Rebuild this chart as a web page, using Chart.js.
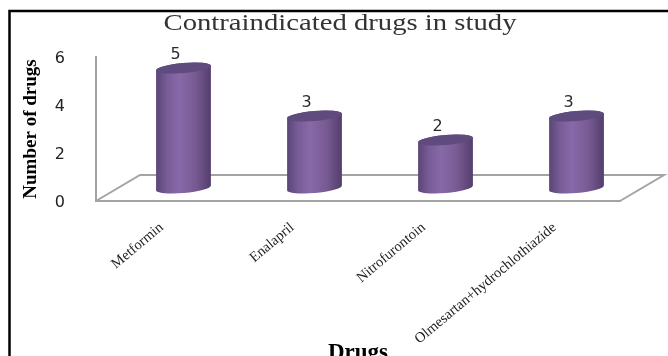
<!DOCTYPE html>
<html>
<head>
    <title>Contraindicated drugs in study</title>
    <script src="https://cdn.jsdelivr.net/npm/chart.js"></script>
    <style>
        html, body { margin: 0; padding: 0; background: #fff; overflow: hidden; }
        canvas { display: block; }
    </style>
</head>
<body>
    <canvas id="myChart" width="668" height="356"></canvas>

    <script>
        var drugs = ['Metformin', 'Enalapril', 'Nitrofurontoin', 'Olmesartan+hydrochlothiazide'];
        var drugCounts = [5, 3, 2, 3];
        var countTicks = [0, 2, 4, 6];
        var chartTitle = 'Contraindicated drugs in study';

        // fake 3D: how far the floor runs back, bars stand halfway along it
        var depthX = 44;
        var depthY = 26;

        // frame, floor and stretched serif heading
        var backdrop = {
            id: 'backdrop',
            beforeDatasetsDraw: function (chart) {
                var ctx = chart.ctx;
                var area = chart.chartArea;
                ctx.save();
                ctx.strokeStyle = '#000';
                ctx.lineWidth = 2.5;
                ctx.beginPath();
                ctx.moveTo(9.5, 356);
                ctx.lineTo(9.5, 11);
                ctx.lineTo(668, 11);
                ctx.stroke();

                ctx.strokeStyle = '#a3a3a3';
                ctx.lineWidth = 2;
                ctx.beginPath();
                ctx.moveTo(area.left, area.bottom);
                ctx.lineTo(area.left + depthX, area.bottom - depthY);
                ctx.lineTo(area.right + depthX, area.bottom - depthY);
                ctx.lineTo(area.right, area.bottom);
                ctx.stroke();

                ctx.fillStyle = '#333';
                ctx.font = '23px "Liberation Serif"';
                ctx.textAlign = 'center';
                ctx.textBaseline = 'alphabetic';
                ctx.translate(340, 30);
                ctx.scale(353 / ctx.measureText(chartTitle).width, 1);
                ctx.fillText(chartTitle, 0, 0);
                ctx.restore();
            }
        };

        function cylinderFill(ctx, left, right) {
            var g = ctx.createLinearGradient(left, 0, right, 0);
            g.addColorStop(0, '#5a4576');
            g.addColorStop(0.2, '#775c96');
            g.addColorStop(0.42, '#8869a9');
            g.addColorStop(0.72, '#785a92');
            g.addColorStop(1, '#523e6c');
            return g;
        }

        // bars are drawn as cylinders from the positions the bar elements got
        var cylinders = {
            id: 'cylinders',
            beforeDatasetDraw: function (chart, args) {
                var ctx = chart.ctx;
                var tilt = -5 * Math.PI / 180;
                args.meta.data.forEach(function (bar, i) {
                    var x = bar.x + depthX / 2;
                    var top = bar.y - depthY / 2;
                    var base = bar.base - depthY / 2;
                    var rx = bar.width / 2;
                    var ry = 5;
                    ctx.save();
                    ctx.fillStyle = cylinderFill(ctx, x - rx, x + rx);
                    ctx.beginPath();
                    ctx.ellipse(x, top, rx, ry, tilt, Math.PI, 0, false);
                    ctx.ellipse(x, base, rx, ry, tilt, 0, Math.PI, false);
                    ctx.closePath();
                    ctx.fill();

                    ctx.fillStyle = bar.options.borderColor;
                    ctx.beginPath();
                    ctx.ellipse(x, top, rx, ry, tilt, 0, Math.PI * 2);
                    ctx.fill();

                    ctx.fillStyle = '#2b2b2b';
                    ctx.font = '16px "DejaVu Sans"';
                    ctx.textAlign = 'center';
                    ctx.textBaseline = 'middle';
                    ctx.fillText(drugCounts[i], x - 8, top - 13);
                    ctx.restore();
                });
                return false;
            }
        };

        var ctx = document.getElementById('myChart').getContext('2d');
        var myChart = new Chart(ctx, {
            type: 'bar',
            data: {
                labels: drugs,
                datasets: [{
                    label: 'Number of drugs',
                    data: drugCounts,
                    backgroundColor: '#8064a2',
                    borderColor: '#5f4b7e',
                    barThickness: 55
                }]
            },
            plugins: [backdrop, cylinders],
            options: {
                responsive: false,
                animation: false,
                layout: { padding: { left: 0, top: 57, right: 48, bottom: 0 } },
                plugins: {
                    legend: { display: false },
                    tooltip: { enabled: false }
                },
                scales: {
                    x: {
                        afterFit: function (scale) { scale.height = 155; },
                        grid: { display: false },
                        border: { color: '#a3a3a3', width: 2 },
                        ticks: {
                            color: '#222',
                            font: { family: 'Liberation Serif', size: 14.5 },
                            minRotation: 40,
                            maxRotation: 40,
                            padding: 10
                        },
                        title: {
                            display: true,
                            text: 'Drugs',
                            color: '#000',
                            font: { family: 'Liberation Serif', size: 23, weight: 'bold' },
                            padding: { top: 0, bottom: -11 }
                        }
                    },
                    y: {
                        min: 0,
                        max: 6,
                        afterFit: function (scale) { scale.width = 96; },
                        afterBuildTicks: function (scale) {
                            scale.ticks = countTicks.map(function (v) { return { value: v }; });
                        },
                        grid: { display: false },
                        border: { color: '#a3a3a3', width: 2 },
                        ticks: {
                            color: '#222',
                            font: { family: 'DejaVu Sans', size: 16 },
                            padding: 23,
                            labelOffset: 2
                        },
                        title: {
                            display: true,
                            text: 'Number of drugs',
                            color: '#000',
                            font: { family: 'Liberation Serif', size: 19, weight: 'bold' },
                            padding: { top: 20, bottom: 0 }
                        }
                    }
                }
            }
        });
    </script>
</body>
</html>
